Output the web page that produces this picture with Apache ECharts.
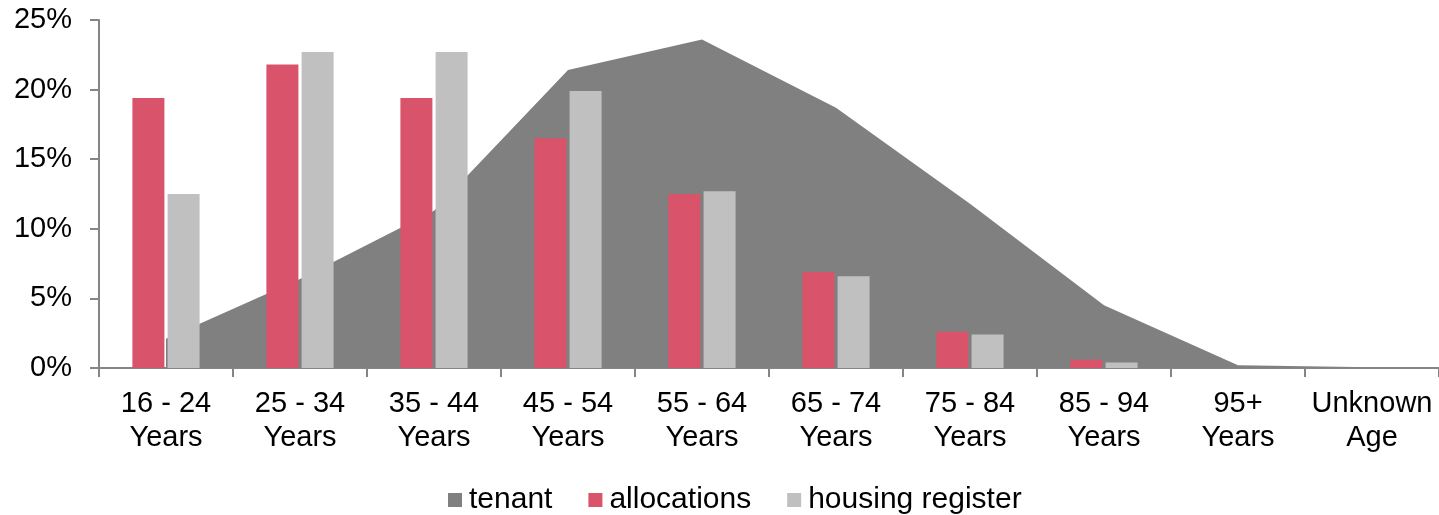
<!DOCTYPE html>
<html>
<head>
<meta charset="utf-8">
<script src="https://cdn.jsdelivr.net/npm/echarts@6/dist/echarts.min.js"></script>
<style>
  html, body { margin: 0; padding: 0; background: #fff; }
  #chart { width: 1439px; height: 515px; }
</style>
</head>
<body>
<div id="chart"></div>
<script>
// age bands
const categories = [
  '16 - 24\nYears', '25 - 34\nYears', '35 - 44\nYears', '45 - 54\nYears',
  '55 - 64\nYears', '65 - 74\nYears', '75 - 84\nYears', '85 - 94\nYears',
  '95+\nYears', 'Unknown\nAge'
];

// percentages
const tenant = [2.1, 6.4, 11.3, 21.4, 23.6, 18.7, 11.8, 4.5, 0.2, 0.05];
const allocations = [19.4, 21.8, 19.4, 16.5, 12.5, 6.9, 2.6, 0.6, 0, 0];
const housingRegister = [12.5, 22.7, 22.7, 19.9, 12.7, 6.6, 2.4, 0.4, 0, 0];

const yTicks = [0, 5, 10, 15, 20, 25];

const axisGrey = '#858585';
const font = 'Liberation Sans, Arial, sans-serif';

const myChart = echarts.init(document.getElementById('chart'));

const option = {
  animation: false,
  grid: { left: 99, right: 0, top: 20, bottom: 147, containLabel: false },
  legend: {
    top: 480,
    left: 443,
    itemWidth: 14,
    itemHeight: 14,
    itemGap: 36,
    icon: 'rect',
    textStyle: { fontFamily: font, fontSize: 30, color: '#000', padding: [0, 0, 0, 2] },
    data: ['tenant', 'allocations', 'housing register']
  },
  xAxis: {
    type: 'category',
    data: categories,
    boundaryGap: true,
    axisLine: { lineStyle: { color: axisGrey, width: 2 } },
    axisTick: { show: true, length: 9, lineStyle: { color: axisGrey, width: 2 } },
    axisLabel: {
      interval: 0,
      margin: 19,
      fontFamily: font,
      fontSize: 29,
      lineHeight: 34,
      color: '#000'
    }
  },
  yAxis: {
    type: 'value',
    min: yTicks[0],
    max: yTicks[yTicks.length - 1],
    interval: 5,
    splitLine: { show: false },
    axisLine: { show: true, lineStyle: { color: axisGrey, width: 2 } },
    axisTick: { show: true, length: 9, lineStyle: { color: axisGrey, width: 2 } },
    axisLabel: {
      margin: 27,
      fontFamily: font,
      fontSize: 29,
      color: '#000',
      formatter: v => v + '%'
    }
  },
  series: [
    {
      name: 'tenant',
      type: 'line',
      data: tenant,
      symbol: 'none',
      lineStyle: { width: 0, color: '#808080' },
      itemStyle: { color: '#808080' },
      areaStyle: { color: '#808080', opacity: 1 },
      z: 1
    },
    {
      name: 'allocations',
      type: 'bar',
      data: allocations,
      barWidth: 32,
      barGap: '10%',
      itemStyle: { color: '#D9536B' },
      z: 3
    },
    {
      name: 'housing register',
      type: 'bar',
      data: housingRegister,
      barWidth: 32,
      itemStyle: { color: '#C0C0C0' },
      z: 3
    }
  ]
};

myChart.setOption(option);
</script>
</body>
</html>
